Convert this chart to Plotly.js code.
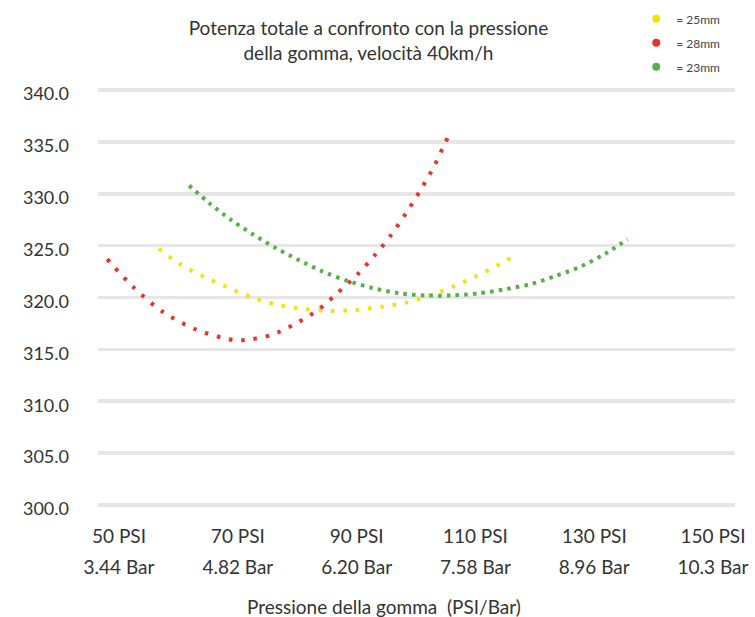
<!DOCTYPE html>
<html>
<head>
<meta charset="utf-8">
<script src="https://cdn.plot.ly/plotly-3.0.1.min.js"></script>
<style>html,body{margin:0;padding:0;background:#fff;}#chart{width:755px;height:617px;}</style>
</head>
<body>
<div id="chart"></div>
<script>
// Pressure (PSI) and total power readings per tyre width
var psi28 = [48.0, 52.4, 57.4, 63.0, 69.2, 71.3, 75.7, 79.8, 83.5, 86.9, 90.1, 93.1, 95.9, 98.4, 100.8, 103.0, 104.9, 105.9];
var pot28 = [323.7, 321.0, 318.6, 316.9, 315.9, 315.9, 316.4, 317.5, 318.8, 320.5, 322.2, 324.1, 326.1, 328.2, 330.4, 332.6, 334.9, 336.0];

var psi25 = [56.7, 60.3, 64.3, 68.2, 72.4, 76.7, 81.0, 85.5, 89.9, 94.1, 98.3, 102.4, 106.5, 110.3, 114.1, 115.9];
var pot25 = [324.7, 323.2, 322.0, 321.0, 320.0, 319.3, 318.9, 318.7, 318.8, 319.1, 319.5, 320.2, 321.1, 322.1, 323.2, 323.8];

var psi23 = [61.8, 65.2, 68.8, 72.5, 76.3, 80.3, 84.3, 88.5, 92.8, 97.2, 101.6, 106.1, 110.6, 115.0, 119.4, 123.6, 127.8, 131.8, 135.6];
var pot23 = [330.8, 329.1, 327.5, 326.1, 324.8, 323.6, 322.5, 321.6, 320.9, 320.4, 320.2, 320.2, 320.4, 320.8, 321.3, 322.1, 323.0, 324.2, 325.6];

var seriesNames = ['= 25mm', '= 28mm', '= 23mm'];
var tickPsi = [50, 70, 90, 110, 130, 150];
var tickPsiText = ['50 PSI', '70 PSI', '90 PSI', '110 PSI', '130 PSI', '150 PSI'];
var tickBarText = ['3.44 Bar', '4.82 Bar', '6.20 Bar', '7.58 Bar', '8.96 Bar', '10.3 Bar'];

var colors = {y: '#f2e205', r: '#e8322c', g: '#58b047'};
var FONT = 'Lato, "Open Sans", sans-serif';

function curve(x, y, color, dash, name) {
  return {x: x, y: y, type: 'scatter', mode: 'lines', name: name, showlegend: false,
    line: {color: color, width: 4, dash: dash, shape: 'spline', smoothing: 0.8},
    hoverinfo: 'x+y'};
}
function legendItem(color, name, grp) {
  return {x: [null], y: [null], type: 'scatter', mode: 'markers', name: name,
    legendgroup: grp, xaxis: 'x2',
    marker: {color: color, size: 8, symbol: 'circle'}};
}

var data = [
  curve(psi25, pot25, colors.y, '3.5px,8.9px', seriesNames[0]),
  curve(psi28, pot28, colors.r, '3.5px,8.9px', seriesNames[1]),
  curve(psi23, pot23, colors.g, '3.5px,5.2px', seriesNames[2]),
  legendItem(colors.y, seriesNames[0], 'a'),
  legendItem(colors.r, seriesNames[1], 'b'),
  legendItem(colors.g, seriesNames[2], 'c')
];

var layout = {
  width: 755, height: 617,
  margin: {l: 98, r: 20, t: 89, b: 111, autoexpand: false},
  paper_bgcolor: '#fff', plot_bgcolor: '#fff',
  font: {family: FONT, color: '#333'},
  title: {
    text: 'Potenza totale a confronto con la pressione<br>della gomma, velocità 40km/h',
    font: {family: FONT, size: 19, color: '#333'},
    xref: 'container', x: 0.488, xanchor: 'center',
    yref: 'container', y: 0.943, yanchor: 'top'
  },
  xaxis: {
    range: [46.46, 153.7], showgrid: false, zeroline: false, showline: false, ticks: '',
    tickmode: 'array', tickvals: tickPsi, ticktext: tickPsiText,
    tickfont: {family: FONT, size: 19, color: '#333'},
    ticklabelstandoff: 17
  },
  xaxis2: {
    overlaying: 'x', matches: 'x', side: 'bottom', showgrid: false, zeroline: false,
    showline: false, ticks: '',
    tickmode: 'array', tickvals: tickPsi, ticktext: tickBarText,
    tickfont: {family: FONT, size: 19, color: '#333'},
    ticklabelstandoff: 48
  },
  yaxis: {
    range: [299.9, 340.1], dtick: 5, tick0: 300, tickformat: '.1f',
    showgrid: true, gridcolor: '#e6e6e6', gridwidth: 3.5,
    zeroline: false, showline: false, ticks: '',
    tickfont: {family: FONT, size: 18, color: '#333'},
    ticklabelstandoff: 28, ticklabelshift: 4
  },
  legend: {
    x: 0.845, xanchor: 'left', y: 1.203, yanchor: 'top',
    font: {family: FONT, size: 12, color: '#444'},
    tracegroupgap: 5, bgcolor: 'rgba(0,0,0,0)'
  },
  annotations: [{
    text: 'Pressione della gomma\u00a0 (PSI/Bar)',
    xref: 'paper', yref: 'paper', x: (384 - 98) / 637, y: -(605 - 505) / 415,
    xanchor: 'center', yanchor: 'middle', showarrow: false,
    font: {family: FONT, size: 19, color: '#333'}
  }],
  showlegend: true
};

Plotly.newPlot('chart', data, layout, {displayModeBar: false, staticPlot: true});
</script>
</body>
</html>
